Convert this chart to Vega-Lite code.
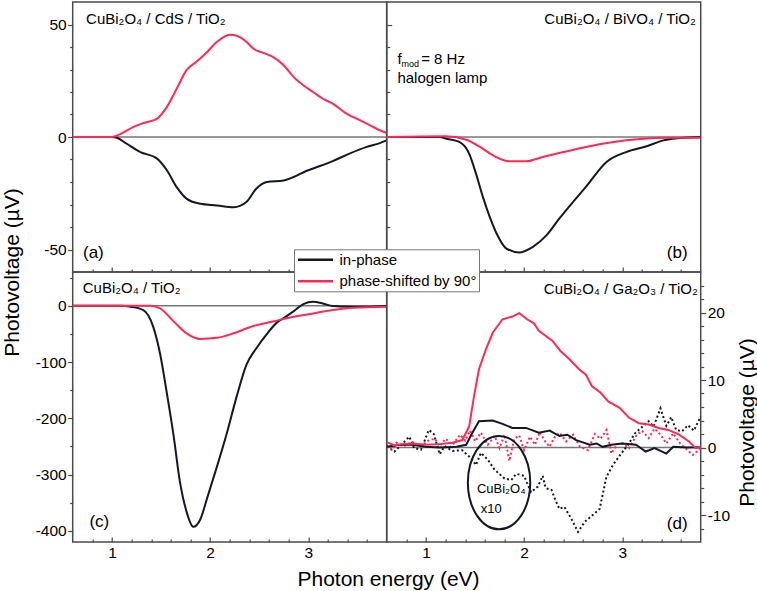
{
  "$schema": "https://vega.github.io/schema/vega-lite/v6.json",
  "autosize": {"type": "none"},
  "padding": {"left": 72.7, "top": 2, "right": 56, "bottom": 49},
  "params": [{"name": "width", "value": 628.3}, {"name": "height", "value": 540}],
  "background": "white",
  "config": {
    "font": "Liberation Sans",
    "view": {"stroke": "#4a4a4a", "strokeWidth": 1.5},
    "axis": {"domain": false, "grid": false, "labelFont": "Liberation Sans", "labelFontSize": 15.5, "labelColor": "#000", "tickColor": "#4a4a4a", "tickWidth": 1.2, "titleFont": "Liberation Sans", "titleFontSize": 21, "titleFontWeight": "normal", "titleColor": "#000", "labelFlush": false, "labelOverlap": false},
    "legend": {"title": null, "orient": "none", "legendX": 221.3, "legendY": 247.3, "symbolType": "M-2.5,0H2.5", "symbolSize": 196, "symbolOffset": 11, "symbolStrokeWidth": 2.5, "labelFontSize": 15, "labelFont": "Liberation Sans", "labelColor": "#000", "padding": 2, "strokeColor": "#777777", "fillColor": "#ffffff", "rowPadding": 4.5, "labelOffset": 15.5},
    "text": {"font": "Liberation Sans", "color": "#000"}
  },
  "datasets": {
    "curves": [
      {"p":"a","s":"in-phase","x":0.6,"y":0},{"p":"a","s":"in-phase","x":0.8,"y":0},{"p":"a","s":"in-phase","x":1.0,"y":0},{"p":"a","s":"in-phase","x":1.05,"y":-0.3},{"p":"a","s":"in-phase","x":1.15,"y":-3},{"p":"a","s":"in-phase","x":1.29,"y":-6.7},{"p":"a","s":"in-phase","x":1.46,"y":-9.6},{"p":"a","s":"in-phase","x":1.56,"y":-14.8},{"p":"a","s":"in-phase","x":1.66,"y":-22.3},{"p":"a","s":"in-phase","x":1.76,"y":-27.4},{"p":"a","s":"in-phase","x":1.9,"y":-29.7},{"p":"a","s":"in-phase","x":2.07,"y":-30.4},{"p":"a","s":"in-phase","x":2.24,"y":-31.2},{"p":"a","s":"in-phase","x":2.37,"y":-28.9},{"p":"a","s":"in-phase","x":2.47,"y":-23},{"p":"a","s":"in-phase","x":2.58,"y":-20},{"p":"a","s":"in-phase","x":2.75,"y":-19.3},{"p":"a","s":"in-phase","x":2.85,"y":-17.8},{"p":"a","s":"in-phase","x":2.98,"y":-15.1},{"p":"a","s":"in-phase","x":3.12,"y":-12.9},{"p":"a","s":"in-phase","x":3.25,"y":-10.7},{"p":"a","s":"in-phase","x":3.42,"y":-7.4},{"p":"a","s":"in-phase","x":3.59,"y":-4.5},{"p":"a","s":"in-phase","x":3.73,"y":-2.7},{"p":"a","s":"in-phase","x":3.8,"y":-1.5},
      {"p":"a","s":"phase-shifted by 90°","x":0.6,"y":0},{"p":"a","s":"phase-shifted by 90°","x":1.0,"y":0},{"p":"a","s":"phase-shifted by 90°","x":1.08,"y":1.2},{"p":"a","s":"phase-shifted by 90°","x":1.22,"y":4.5},{"p":"a","s":"phase-shifted by 90°","x":1.32,"y":6.2},{"p":"a","s":"phase-shifted by 90°","x":1.46,"y":8.2},{"p":"a","s":"phase-shifted by 90°","x":1.56,"y":13.4},{"p":"a","s":"phase-shifted by 90°","x":1.66,"y":21.5},{"p":"a","s":"phase-shifted by 90°","x":1.76,"y":29.7},{"p":"a","s":"phase-shifted by 90°","x":1.86,"y":33.4},{"p":"a","s":"phase-shifted by 90°","x":1.97,"y":37.8},{"p":"a","s":"phase-shifted by 90°","x":2.07,"y":42.3},{"p":"a","s":"phase-shifted by 90°","x":2.2,"y":45.5},{"p":"a","s":"phase-shifted by 90°","x":2.27,"y":45},{"p":"a","s":"phase-shifted by 90°","x":2.37,"y":42.3},{"p":"a","s":"phase-shifted by 90°","x":2.44,"y":39.3},{"p":"a","s":"phase-shifted by 90°","x":2.54,"y":37.4},{"p":"a","s":"phase-shifted by 90°","x":2.64,"y":35.6},{"p":"a","s":"phase-shifted by 90°","x":2.75,"y":31.9},{"p":"a","s":"phase-shifted by 90°","x":2.85,"y":26.7},{"p":"a","s":"phase-shifted by 90°","x":2.95,"y":23},{"p":"a","s":"phase-shifted by 90°","x":3.05,"y":20},{"p":"a","s":"phase-shifted by 90°","x":3.15,"y":17},{"p":"a","s":"phase-shifted by 90°","x":3.25,"y":14.8},{"p":"a","s":"phase-shifted by 90°","x":3.39,"y":10.4},{"p":"a","s":"phase-shifted by 90°","x":3.53,"y":7.4},{"p":"a","s":"phase-shifted by 90°","x":3.63,"y":5.2},{"p":"a","s":"phase-shifted by 90°","x":3.73,"y":3},{"p":"a","s":"phase-shifted by 90°","x":3.8,"y":1.8},
      {"p":"b","s":"in-phase","x":0.6,"y":0},{"p":"b","s":"in-phase","x":1.14,"y":0},{"p":"b","s":"in-phase","x":1.2,"y":-0.7},{"p":"b","s":"in-phase","x":1.34,"y":-2.2},{"p":"b","s":"in-phase","x":1.44,"y":-7.4},{"p":"b","s":"in-phase","x":1.51,"y":-16.3},{"p":"b","s":"in-phase","x":1.58,"y":-26.6},{"p":"b","s":"in-phase","x":1.65,"y":-35.5},{"p":"b","s":"in-phase","x":1.72,"y":-42.9},{"p":"b","s":"in-phase","x":1.82,"y":-49.6},{"p":"b","s":"in-phase","x":1.95,"y":-51.3},{"p":"b","s":"in-phase","x":2.09,"y":-48.8},{"p":"b","s":"in-phase","x":2.23,"y":-43.6},{"p":"b","s":"in-phase","x":2.36,"y":-36.2},{"p":"b","s":"in-phase","x":2.5,"y":-28.8},{"p":"b","s":"in-phase","x":2.63,"y":-22.2},{"p":"b","s":"in-phase","x":2.84,"y":-11.1},{"p":"b","s":"in-phase","x":3.04,"y":-6.7},{"p":"b","s":"in-phase","x":3.25,"y":-4.1},{"p":"b","s":"in-phase","x":3.42,"y":-1.5},{"p":"b","s":"in-phase","x":3.59,"y":-0.4},{"p":"b","s":"in-phase","x":3.8,"y":0},
      {"p":"b","s":"phase-shifted by 90°","x":0.6,"y":0},{"p":"b","s":"phase-shifted by 90°","x":1.2,"y":0.3},{"p":"b","s":"phase-shifted by 90°","x":1.41,"y":-1.2},{"p":"b","s":"phase-shifted by 90°","x":1.55,"y":-4.4},{"p":"b","s":"phase-shifted by 90°","x":1.68,"y":-8.1},{"p":"b","s":"phase-shifted by 90°","x":1.85,"y":-10.8},{"p":"b","s":"phase-shifted by 90°","x":2.02,"y":-10.8},{"p":"b","s":"phase-shifted by 90°","x":2.19,"y":-8.9},{"p":"b","s":"phase-shifted by 90°","x":2.4,"y":-6.7},{"p":"b","s":"phase-shifted by 90°","x":2.63,"y":-4.4},{"p":"b","s":"phase-shifted by 90°","x":2.91,"y":-2.2},{"p":"b","s":"phase-shifted by 90°","x":3.18,"y":-0.9},{"p":"b","s":"phase-shifted by 90°","x":3.45,"y":-0.3},{"p":"b","s":"phase-shifted by 90°","x":3.8,"y":-0.3},
      {"p":"c","s":"in-phase","x":0.6,"y":0},{"p":"c","s":"in-phase","x":1.1,"y":0},{"p":"c","s":"in-phase","x":1.19,"y":-1.8},{"p":"c","s":"in-phase","x":1.32,"y":-7.7},{"p":"c","s":"in-phase","x":1.42,"y":-37},{"p":"c","s":"in-phase","x":1.49,"y":-85},{"p":"c","s":"in-phase","x":1.56,"y":-156},{"p":"c","s":"in-phase","x":1.63,"y":-233},{"p":"c","s":"in-phase","x":1.69,"y":-310},{"p":"c","s":"in-phase","x":1.76,"y":-366},{"p":"c","s":"in-phase","x":1.83,"y":-393},{"p":"c","s":"in-phase","x":1.9,"y":-380},{"p":"c","s":"in-phase","x":1.97,"y":-342},{"p":"c","s":"in-phase","x":2.07,"y":-286},{"p":"c","s":"in-phase","x":2.17,"y":-227},{"p":"c","s":"in-phase","x":2.27,"y":-162},{"p":"c","s":"in-phase","x":2.37,"y":-105},{"p":"c","s":"in-phase","x":2.47,"y":-76},{"p":"c","s":"in-phase","x":2.58,"y":-50},{"p":"c","s":"in-phase","x":2.68,"y":-30},{"p":"c","s":"in-phase","x":2.75,"y":-22},{"p":"c","s":"in-phase","x":2.85,"y":-10},{"p":"c","s":"in-phase","x":2.95,"y":3},{"p":"c","s":"in-phase","x":3.05,"y":7},{"p":"c","s":"in-phase","x":3.15,"y":4},{"p":"c","s":"in-phase","x":3.25,"y":-0.6},{"p":"c","s":"in-phase","x":3.42,"y":-1.8},{"p":"c","s":"in-phase","x":3.59,"y":-1.8},{"p":"c","s":"in-phase","x":3.8,"y":-0.6},
      {"p":"c","s":"phase-shifted by 90°","x":0.6,"y":0},{"p":"c","s":"phase-shifted by 90°","x":1.4,"y":0},{"p":"c","s":"phase-shifted by 90°","x":1.49,"y":-4.7},{"p":"c","s":"phase-shifted by 90°","x":1.63,"y":-28},{"p":"c","s":"phase-shifted by 90°","x":1.76,"y":-49},{"p":"c","s":"phase-shifted by 90°","x":1.9,"y":-59},{"p":"c","s":"phase-shifted by 90°","x":2.07,"y":-57},{"p":"c","s":"phase-shifted by 90°","x":2.24,"y":-49},{"p":"c","s":"phase-shifted by 90°","x":2.44,"y":-36},{"p":"c","s":"phase-shifted by 90°","x":2.64,"y":-28},{"p":"c","s":"phase-shifted by 90°","x":2.85,"y":-19.6},{"p":"c","s":"phase-shifted by 90°","x":3.05,"y":-13.6},{"p":"c","s":"phase-shifted by 90°","x":3.25,"y":-7.7},{"p":"c","s":"phase-shifted by 90°","x":3.46,"y":-3.6},{"p":"c","s":"phase-shifted by 90°","x":3.8,"y":-1.8},
      {"p":"d","s":"in-phase","x":0.6,"y":0.1},{"p":"d","s":"in-phase","x":0.73,"y":0.4},{"p":"d","s":"in-phase","x":0.86,"y":0.4},{"p":"d","s":"in-phase","x":1.0,"y":0.1},{"p":"d","s":"in-phase","x":1.14,"y":0},{"p":"d","s":"in-phase","x":1.31,"y":0.1},{"p":"d","s":"in-phase","x":1.41,"y":0.4},{"p":"d","s":"in-phase","x":1.47,"y":2.1},{"p":"d","s":"in-phase","x":1.54,"y":3.9},{"p":"d","s":"in-phase","x":1.68,"y":4},{"p":"d","s":"in-phase","x":1.78,"y":3.5},{"p":"d","s":"in-phase","x":1.88,"y":2.9},{"p":"d","s":"in-phase","x":2.02,"y":2.9},{"p":"d","s":"in-phase","x":2.15,"y":2.2},{"p":"d","s":"in-phase","x":2.26,"y":2.5},{"p":"d","s":"in-phase","x":2.36,"y":1.7},{"p":"d","s":"in-phase","x":2.44,"y":1.9},{"p":"d","s":"in-phase","x":2.53,"y":1.1},{"p":"d","s":"in-phase","x":2.67,"y":0.4},{"p":"d","s":"in-phase","x":2.74,"y":0.6},{"p":"d","s":"in-phase","x":2.8,"y":0.1},{"p":"d","s":"in-phase","x":2.89,"y":0.4},{"p":"d","s":"in-phase","x":3.0,"y":0.6},{"p":"d","s":"in-phase","x":3.14,"y":0.4},{"p":"d","s":"in-phase","x":3.24,"y":-0.6},{"p":"d","s":"in-phase","x":3.33,"y":-0.1},{"p":"d","s":"in-phase","x":3.45,"y":-0.9},{"p":"d","s":"in-phase","x":3.52,"y":0.1},{"p":"d","s":"in-phase","x":3.66,"y":0},{"p":"d","s":"in-phase","x":3.8,"y":0.05},
      {"p":"d","s":"phase-shifted by 90°","x":0.6,"y":0.8},{"p":"d","s":"phase-shifted by 90°","x":0.68,"y":0.3},{"p":"d","s":"phase-shifted by 90°","x":0.75,"y":0.5},{"p":"d","s":"phase-shifted by 90°","x":0.86,"y":0.6},{"p":"d","s":"phase-shifted by 90°","x":1.0,"y":0.4},{"p":"d","s":"phase-shifted by 90°","x":1.14,"y":0.5},{"p":"d","s":"phase-shifted by 90°","x":1.27,"y":0.7},{"p":"d","s":"phase-shifted by 90°","x":1.37,"y":1.1},{"p":"d","s":"phase-shifted by 90°","x":1.44,"y":3.1},{"p":"d","s":"phase-shifted by 90°","x":1.49,"y":7.6},{"p":"d","s":"phase-shifted by 90°","x":1.54,"y":11.6},{"p":"d","s":"phase-shifted by 90°","x":1.61,"y":14.5},{"p":"d","s":"phase-shifted by 90°","x":1.68,"y":17},{"p":"d","s":"phase-shifted by 90°","x":1.78,"y":19},{"p":"d","s":"phase-shifted by 90°","x":1.88,"y":19.4},{"p":"d","s":"phase-shifted by 90°","x":1.95,"y":19.9},{"p":"d","s":"phase-shifted by 90°","x":2.03,"y":19},{"p":"d","s":"phase-shifted by 90°","x":2.1,"y":18.4},{"p":"d","s":"phase-shifted by 90°","x":2.15,"y":17.3},{"p":"d","s":"phase-shifted by 90°","x":2.29,"y":15.8},{"p":"d","s":"phase-shifted by 90°","x":2.37,"y":14.3},{"p":"d","s":"phase-shifted by 90°","x":2.46,"y":13.1},{"p":"d","s":"phase-shifted by 90°","x":2.56,"y":11.6},{"p":"d","s":"phase-shifted by 90°","x":2.63,"y":10.8},{"p":"d","s":"phase-shifted by 90°","x":2.69,"y":9.1},{"p":"d","s":"phase-shifted by 90°","x":2.78,"y":8.1},{"p":"d","s":"phase-shifted by 90°","x":2.86,"y":6.8},{"p":"d","s":"phase-shifted by 90°","x":2.97,"y":5.9},{"p":"d","s":"phase-shifted by 90°","x":3.07,"y":4.4},{"p":"d","s":"phase-shifted by 90°","x":3.17,"y":3.6},{"p":"d","s":"phase-shifted by 90°","x":3.27,"y":3.4},{"p":"d","s":"phase-shifted by 90°","x":3.37,"y":2.9},{"p":"d","s":"phase-shifted by 90°","x":3.47,"y":2.6},{"p":"d","s":"phase-shifted by 90°","x":3.58,"y":1.9},{"p":"d","s":"phase-shifted by 90°","x":3.68,"y":0.9},{"p":"d","s":"phase-shifted by 90°","x":3.75,"y":-0.1},{"p":"d","s":"phase-shifted by 90°","x":3.8,"y":0.1},
      {"p":"d","s":"x10 in-phase","x":0.6,"y":0.2},{"p":"d","s":"x10 in-phase","x":0.68,"y":-0.6},{"p":"d","s":"x10 in-phase","x":0.75,"y":0.4},{"p":"d","s":"x10 in-phase","x":0.83,"y":1.6},{"p":"d","s":"x10 in-phase","x":0.88,"y":-0.1},{"p":"d","s":"x10 in-phase","x":0.95,"y":-0.3},{"p":"d","s":"x10 in-phase","x":1.03,"y":2.6},{"p":"d","s":"x10 in-phase","x":1.08,"y":2.0},{"p":"d","s":"x10 in-phase","x":1.14,"y":-1.0},{"p":"d","s":"x10 in-phase","x":1.19,"y":0.2},{"p":"d","s":"x10 in-phase","x":1.27,"y":-0.5},{"p":"d","s":"x10 in-phase","x":1.37,"y":-0.4},{"p":"d","s":"x10 in-phase","x":1.46,"y":-1.6},{"p":"d","s":"x10 in-phase","x":1.51,"y":-2.6},{"p":"d","s":"x10 in-phase","x":1.56,"y":-0.8},{"p":"d","s":"x10 in-phase","x":1.63,"y":-1.8},{"p":"d","s":"x10 in-phase","x":1.7,"y":-3.3},{"p":"d","s":"x10 in-phase","x":1.8,"y":-4.6},{"p":"d","s":"x10 in-phase","x":1.87,"y":-4.8},{"p":"d","s":"x10 in-phase","x":1.92,"y":-3.9},{"p":"d","s":"x10 in-phase","x":2.0,"y":-4.2},{"p":"d","s":"x10 in-phase","x":2.07,"y":-6.6},{"p":"d","s":"x10 in-phase","x":2.14,"y":-5.8},{"p":"d","s":"x10 in-phase","x":2.19,"y":-4.2},{"p":"d","s":"x10 in-phase","x":2.22,"y":-6.0},{"p":"d","s":"x10 in-phase","x":2.28,"y":-6.3},{"p":"d","s":"x10 in-phase","x":2.32,"y":-7.8},{"p":"d","s":"x10 in-phase","x":2.36,"y":-9.1},{"p":"d","s":"x10 in-phase","x":2.41,"y":-8.8},{"p":"d","s":"x10 in-phase","x":2.48,"y":-10.5},{"p":"d","s":"x10 in-phase","x":2.55,"y":-12.5},{"p":"d","s":"x10 in-phase","x":2.62,"y":-11},{"p":"d","s":"x10 in-phase","x":2.7,"y":-10},{"p":"d","s":"x10 in-phase","x":2.77,"y":-9.1},{"p":"d","s":"x10 in-phase","x":2.84,"y":-4.3},{"p":"d","s":"x10 in-phase","x":2.91,"y":-2.5},{"p":"d","s":"x10 in-phase","x":2.99,"y":-0.9},{"p":"d","s":"x10 in-phase","x":3.06,"y":0.4},{"p":"d","s":"x10 in-phase","x":3.13,"y":2.1},{"p":"d","s":"x10 in-phase","x":3.2,"y":3.0},{"p":"d","s":"x10 in-phase","x":3.27,"y":3.9},{"p":"d","s":"x10 in-phase","x":3.32,"y":3.1},{"p":"d","s":"x10 in-phase","x":3.39,"y":5.8},{"p":"d","s":"x10 in-phase","x":3.45,"y":3.2},{"p":"d","s":"x10 in-phase","x":3.5,"y":4.5},{"p":"d","s":"x10 in-phase","x":3.55,"y":2.6},{"p":"d","s":"x10 in-phase","x":3.61,"y":2.4},{"p":"d","s":"x10 in-phase","x":3.67,"y":3.3},{"p":"d","s":"x10 in-phase","x":3.73,"y":2.5},{"p":"d","s":"x10 in-phase","x":3.8,"y":4.6},
      {"p":"d","s":"x10 phase","x":0.6,"y":0.2},{"p":"d","s":"x10 phase","x":0.65,"y":-0.3},{"p":"d","s":"x10 phase","x":0.7,"y":0.7},{"p":"d","s":"x10 phase","x":0.77,"y":0.2},{"p":"d","s":"x10 phase","x":0.86,"y":0.8},{"p":"d","s":"x10 phase","x":0.95,"y":0.2},{"p":"d","s":"x10 phase","x":1.02,"y":1.0},{"p":"d","s":"x10 phase","x":1.09,"y":1.3},{"p":"d","s":"x10 phase","x":1.14,"y":0.2},{"p":"d","s":"x10 phase","x":1.2,"y":1.3},{"p":"d","s":"x10 phase","x":1.27,"y":0.4},{"p":"d","s":"x10 phase","x":1.35,"y":1.9},{"p":"d","s":"x10 phase","x":1.4,"y":1.0},{"p":"d","s":"x10 phase","x":1.45,"y":2.5},{"p":"d","s":"x10 phase","x":1.5,"y":0.9},{"p":"d","s":"x10 phase","x":1.56,"y":2.2},{"p":"d","s":"x10 phase","x":1.63,"y":0.4},{"p":"d","s":"x10 phase","x":1.7,"y":1.7},{"p":"d","s":"x10 phase","x":1.75,"y":-0.1},{"p":"d","s":"x10 phase","x":1.8,"y":1.9},{"p":"d","s":"x10 phase","x":1.85,"y":-2.0},{"p":"d","s":"x10 phase","x":1.9,"y":1.3},{"p":"d","s":"x10 phase","x":1.95,"y":1.8},{"p":"d","s":"x10 phase","x":2.0,"y":-0.4},{"p":"d","s":"x10 phase","x":2.06,"y":1.6},{"p":"d","s":"x10 phase","x":2.11,"y":0.4},{"p":"d","s":"x10 phase","x":2.16,"y":2.3},{"p":"d","s":"x10 phase","x":2.21,"y":1.0},{"p":"d","s":"x10 phase","x":2.26,"y":0.1},{"p":"d","s":"x10 phase","x":2.31,"y":1.5},{"p":"d","s":"x10 phase","x":2.36,"y":2.2},{"p":"d","s":"x10 phase","x":2.43,"y":0.9},{"p":"d","s":"x10 phase","x":2.5,"y":1.9},{"p":"d","s":"x10 phase","x":2.57,"y":0.1},{"p":"d","s":"x10 phase","x":2.65,"y":-0.4},{"p":"d","s":"x10 phase","x":2.72,"y":2.0},{"p":"d","s":"x10 phase","x":2.78,"y":1.3},{"p":"d","s":"x10 phase","x":2.84,"y":2.6},{"p":"d","s":"x10 phase","x":2.89,"y":-0.9},{"p":"d","s":"x10 phase","x":2.95,"y":0.5},{"p":"d","s":"x10 phase","x":3.01,"y":0.6},{"p":"d","s":"x10 phase","x":3.07,"y":-0.1},{"p":"d","s":"x10 phase","x":3.14,"y":1.7},{"p":"d","s":"x10 phase","x":3.2,"y":2.5},{"p":"d","s":"x10 phase","x":3.27,"y":1.4},{"p":"d","s":"x10 phase","x":3.33,"y":2.8},{"p":"d","s":"x10 phase","x":3.39,"y":1.9},{"p":"d","s":"x10 phase","x":3.45,"y":0.6},{"p":"d","s":"x10 phase","x":3.52,"y":2.1},{"p":"d","s":"x10 phase","x":3.59,"y":0.6},{"p":"d","s":"x10 phase","x":3.66,"y":-0.3},{"p":"d","s":"x10 phase","x":3.72,"y":-1.1},{"p":"d","s":"x10 phase","x":3.8,"y":-0.1}
    ]
  },
  "columns": 2,
  "spacing": 0,
  "bounds": "flush",
  "concat": [
    {
      "width": 314, "height": 270,
      "encoding": {
        "x": {"field": "x", "type": "quantitative", "scale": {"domain": [0.6, 3.8], "nice": false, "zero": false},
          "axis": {"values": [0.8,1,1.2,1.4,1.6,1.8,2,2.2,2.4,2.6,2.8,3,3.2,3.4,3.6], "labels": false, "title": null,
            "tickSize": {"condition": {"test": "datum.value % 1 === 0", "value": -5}, "value": -3}}},
        "y": {"field": "y", "type": "quantitative", "scale": {"domain": [-60, 60], "nice": false, "zero": false},
          "axis": {"values": [-50,-40,-30,-20,-10,0,10,20,30,40,50], "labelExpr": "datum.value % 50 === 0 ? '' + datum.value : ''",
            "tickSize": {"condition": {"test": "datum.value % 50 === 0", "value": 5}, "value": 3}, "labelPadding": 1.5,
            "title": "Photovoltage (µV)", "titleX": -54, "titleY": 270, "titleAngle": 270, "titleAlign": "center", "titleBaseline": "alphabetic"}}
      },
      "layer": [
        {"data": {"values": [{"x": 0.6, "y": 0}, {"x": 3.8, "y": 0}]}, "mark": {"type": "line", "color": "#777777", "strokeWidth": 1.3}},
        {"data": {"name": "curves"}, "transform": [{"filter": "datum.p === 'a'"}],
          "mark": {"type": "line", "strokeWidth": 2, "interpolate": "monotone"},
          "encoding": {"color": {"field": "s", "type": "nominal", "scale": {"domain": ["in-phase", "phase-shifted by 90°"], "range": ["#141826", "#ff2a55"]}}}},
        {"data": {"values": [{"x": 0.736, "y": 50.2, "t": "CuBi₂O₄ / CdS / TiO₂"}]}, "mark": {"type": "text", "align": "left", "baseline": "alphabetic", "fontSize": 15}, "encoding": {"text": {"field": "t"}}},
        {"data": {"values": [{"x": 0.705, "y": -53.8, "t": "(a)"}]}, "mark": {"type": "text", "align": "left", "baseline": "alphabetic", "fontSize": 17}, "encoding": {"text": {"field": "t"}}}
      ]
    },
    {
      "width": 314, "height": 270,
      "encoding": {
        "x": {"field": "x", "type": "quantitative", "scale": {"domain": [0.6, 3.8], "nice": false, "zero": false},
          "axis": {"values": [0.8,1,1.2,1.4,1.6,1.8,2,2.2,2.4,2.6,2.8,3,3.2,3.4,3.6], "labels": false, "title": null,
            "tickSize": {"condition": {"test": "datum.value % 1 === 0", "value": -5}, "value": -3}}},
        "y": {"field": "y", "type": "quantitative", "scale": {"domain": [-60, 60], "nice": false, "zero": false},
          "axis": {"values": [-50,-40,-30,-20,-10,0,10,20,30,40,50], "labels": false, "title": null,
            "tickSize": {"condition": {"test": "datum.value % 50 === 0", "value": -5}, "value": -3}}}
      },
      "layer": [
        {"data": {"values": [{"x": 0.6, "y": 0}, {"x": 3.8, "y": 0}]}, "mark": {"type": "line", "color": "#777777", "strokeWidth": 1.3}},
        {"data": {"name": "curves"}, "transform": [{"filter": "datum.p === 'b'"}],
          "mark": {"type": "line", "strokeWidth": 2, "interpolate": "monotone"},
          "encoding": {"color": {"field": "s", "type": "nominal", "scale": {"domain": ["in-phase", "phase-shifted by 90°"], "range": ["#141826", "#ff2a55"]}}}},
        {"data": {"values": [{"x": 3.75, "y": 50.2, "t": "CuBi₂O₄ / BiVO₄ / TiO₂"}]}, "mark": {"type": "text", "align": "right", "baseline": "alphabetic", "fontSize": 15}, "encoding": {"text": {"field": "t"}}},
        {"data": {"values": [{"x": 3.667, "y": -53.8, "t": "(b)"}]}, "mark": {"type": "text", "align": "right", "baseline": "alphabetic", "fontSize": 17}, "encoding": {"text": {"field": "t"}}},
        {"data": {"values": [{"x": 0.709, "y": 32.3, "t": "f"}, {"x": 0.951, "y": 32.3, "t": "= 8 Hz"}, {"x": 0.709, "y": 24, "t": "halogen lamp"}]}, "mark": {"type": "text", "align": "left", "baseline": "alphabetic", "fontSize": 15}, "encoding": {"text": {"field": "t"}}},
        {"data": {"values": [{"x": 0.709, "y": 32.3, "t": "mod"}]}, "mark": {"type": "text", "align": "left", "baseline": "alphabetic", "fontSize": 9, "dx": 4, "dy": 2.5}, "encoding": {"text": {"field": "t"}}}
      ]
    },
    {
      "width": 314, "height": 270,
      "encoding": {
        "x": {"field": "x", "type": "quantitative", "scale": {"domain": [0.6, 3.8], "nice": false, "zero": false},
          "axis": {"values": [0.8,1,1.2,1.4,1.6,1.8,2,2.2,2.4,2.6,2.8,3,3.2,3.4,3.6], "labelExpr": "datum.value % 1 === 0 ? '' + datum.value : ''", "labelPadding": 8,
            "tickSize": {"condition": {"test": "datum.value % 1 === 0", "value": -5}, "value": -3},
            "title": "Photon energy (eV)", "titleX": 315.3, "titleY": 43, "titleAlign": "center", "titleBaseline": "alphabetic"}},
        "y": {"field": "y", "type": "quantitative", "scale": {"domain": [-420, 60], "nice": false, "zero": false},
          "axis": {"values": [-400,-350,-300,-250,-200,-150,-100,-50,0,50], "labelExpr": "datum.value % 100 === 0 ? '' + datum.value : ''",
            "tickSize": {"condition": {"test": "datum.value % 100 === 0", "value": 5}, "value": 3}, "labelPadding": 1.5, "title": null}}
      },
      "layer": [
        {"data": {"values": [{"x": 0.6, "y": 0}, {"x": 3.8, "y": 0}]}, "mark": {"type": "line", "color": "#777777", "strokeWidth": 1.3}},
        {"data": {"name": "curves"}, "transform": [{"filter": "datum.p === 'c'"}],
          "mark": {"type": "line", "strokeWidth": 2, "interpolate": "monotone"},
          "encoding": {"color": {"field": "s", "type": "nominal", "scale": {"domain": ["in-phase", "phase-shifted by 90°"], "range": ["#141826", "#ff2a55"]}}}},
        {"data": {"values": [{"x": 0.702, "y": 22.7, "t": "CuBi₂O₄ / TiO₂"}]}, "mark": {"type": "text", "align": "left", "baseline": "alphabetic", "fontSize": 15}, "encoding": {"text": {"field": "t"}}},
        {"data": {"values": [{"x": 0.77, "y": -393, "t": "(c)"}]}, "mark": {"type": "text", "align": "left", "baseline": "alphabetic", "fontSize": 17}, "encoding": {"text": {"field": "t"}}}
      ]
    },
    {
      "width": 314, "height": 270,
      "encoding": {
        "x": {"field": "x", "type": "quantitative", "scale": {"domain": [0.6, 3.8], "nice": false, "zero": false},
          "axis": {"values": [0.8,1,1.2,1.4,1.6,1.8,2,2.2,2.4,2.6,2.8,3,3.2,3.4,3.6], "labelExpr": "datum.value % 1 === 0 ? '' + datum.value : ''", "labelPadding": 8,
            "tickSize": {"condition": {"test": "datum.value % 1 === 0", "value": -5}, "value": -3}, "title": null}},
        "y": {"field": "y", "type": "quantitative", "scale": {"domain": [-14, 26], "nice": false, "zero": false},
          "axis": {"orient": "right", "values": [-12,-10,-8,-6,-4,-2,0,2,4,6,8,10,12,14,16,18,20,22,24], "labelExpr": "datum.value % 10 === 0 ? '' + datum.value : ''",
            "tickSize": {"condition": {"test": "datum.value % 10 === 0", "value": 5}, "value": 3}, "labelPadding": 1.5,
            "title": "Photovoltage (µV)", "titleX": 53, "titleY": 150, "titleAngle": 270, "titleAlign": "center", "titleBaseline": "alphabetic"}}
      },
      "layer": [
        {"data": {"values": [{"x": 0.6, "y": 0}, {"x": 3.8, "y": 0}]}, "mark": {"type": "line", "color": "#777777", "strokeWidth": 1.3}},
        {"data": {"name": "curves"}, "transform": [{"filter": "datum.s === 'x10 in-phase'"}],
          "mark": {"type": "line", "strokeWidth": 2, "color": "#141826", "strokeDash": [2, 2.5]}},
        {"data": {"name": "curves"}, "transform": [{"filter": "datum.s === 'x10 phase'"}],
          "mark": {"type": "line", "strokeWidth": 2, "color": "#ff2a55", "strokeDash": [2, 2.5]}},
        {"data": {"name": "curves"}, "transform": [{"filter": "datum.p === 'd' && (datum.s === 'in-phase' || datum.s === 'phase-shifted by 90°')"}],
          "mark": {"type": "line", "strokeWidth": 2},
          "encoding": {"color": {"field": "s", "type": "nominal", "scale": {"domain": ["in-phase", "phase-shifted by 90°"], "range": ["#141826", "#ff2a55"]}}}},
        {"data": {"values": [{"x": 1.745, "y": -5.2}]}, "mark": {"type": "point", "shape": "M0,-1A0.668,1,0,1,1,0,1A0.668,1,0,1,1,0,-1Z", "size": 8724, "filled": false, "stroke": "#141826", "strokeWidth": 2, "opacity": 1, "strokeOpacity": 1}},
        {"data": {"values": [{"x": 3.77, "y": 22.7, "t": "CuBi₂O₄ / Ga₂O₃ / TiO₂"}]}, "mark": {"type": "text", "align": "right", "baseline": "alphabetic", "fontSize": 15}, "encoding": {"text": {"field": "t"}}},
        {"data": {"values": [{"x": 3.667, "y": -12.1, "t": "(d)"}]}, "mark": {"type": "text", "align": "right", "baseline": "alphabetic", "fontSize": 17}, "encoding": {"text": {"field": "t"}}},
        {"data": {"values": [{"x": 1.767, "y": -6.7, "t": "CuBi₂O₄"}, {"x": 1.665, "y": -9.67, "t": "x10"}]}, "mark": {"type": "text", "align": "center", "baseline": "alphabetic", "fontSize": 13}, "encoding": {"text": {"field": "t"}}}
      ]
    }
  ]
}
